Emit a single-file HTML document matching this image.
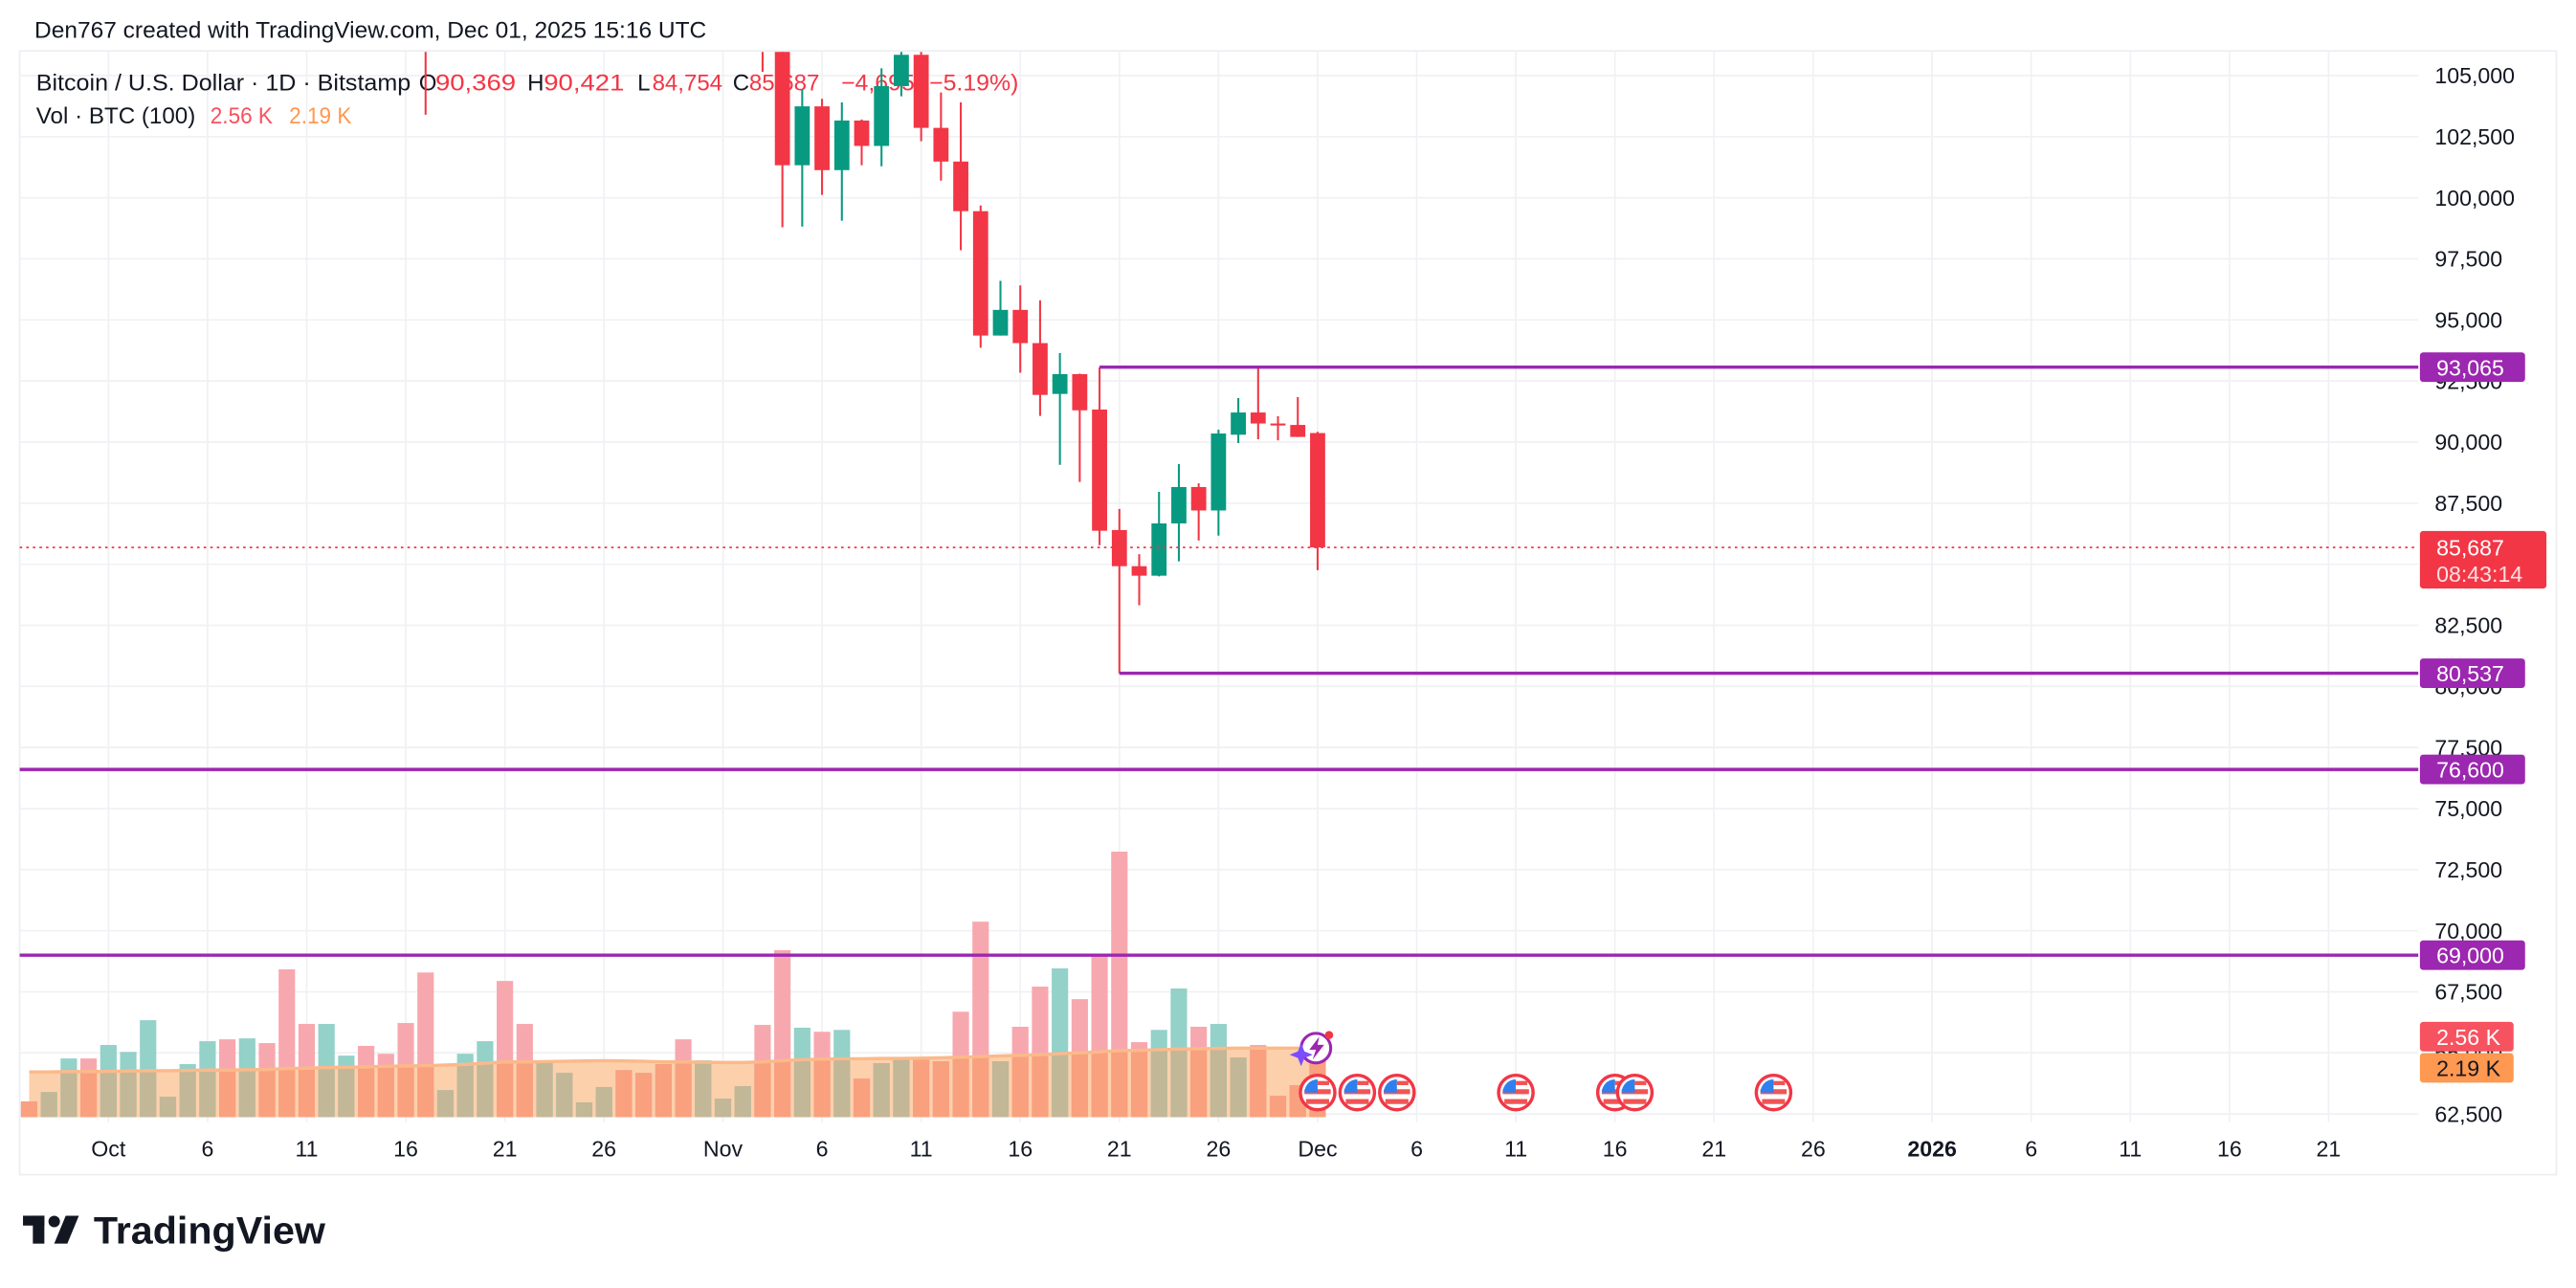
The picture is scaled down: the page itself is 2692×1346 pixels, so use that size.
<!DOCTYPE html>
<html><head><meta charset="utf-8"><style>
html,body{margin:0;padding:0;background:#fff;}
svg{display:block;font-family:"Liberation Sans",Arial,sans-serif;}
</style></head><body>
<svg id="chart" xmlns="http://www.w3.org/2000/svg" width="2692" height="1346" viewBox="0 0 1568 784" preserveAspectRatio="none">
<rect x="0" y="0" width="1568" height="784" fill="#ffffff"/>
<text x="21" y="23" font-size="14" fill="#131722" textLength="409" lengthAdjust="spacingAndGlyphs">Den767 created with TradingView.com, Dec 01, 2025 15:16 UTC</text>
<rect x="12" y="31" width="1544" height="684" fill="none" stroke="#eceef2" stroke-width="1"/>
<g id="grid"></g>
<g id="legend">
<text x="22" y="55" font-size="14" fill="#131722" textLength="228" lengthAdjust="spacingAndGlyphs">Bitcoin / U.S. Dollar · 1D · Bitstamp</text>
<text x="255" y="55" font-size="14" fill="#131722">O</text><text x="265" y="55" font-size="14" fill="#f23645" textLength="49" lengthAdjust="spacingAndGlyphs">90,369</text>
<text x="321" y="55" font-size="14" fill="#131722">H</text><text x="331" y="55" font-size="14" fill="#f23645" textLength="49" lengthAdjust="spacingAndGlyphs">90,421</text>
<text x="388" y="55" font-size="14" fill="#131722">L</text><text x="397" y="55" font-size="14" fill="#f23645">84,754</text>
<text x="446" y="55" font-size="14" fill="#131722">C</text><text x="456" y="55" font-size="14" fill="#f23645">85,687</text>
<text x="512" y="55" font-size="14" fill="#f23645" textLength="108" lengthAdjust="spacingAndGlyphs">−4,695 (−5.19%)</text>
<text x="22" y="75" font-size="14" fill="#131722" textLength="97" lengthAdjust="spacingAndGlyphs">Vol · BTC (100)</text>
<text x="128" y="75" font-size="14" fill="#f7525f" textLength="38" lengthAdjust="spacingAndGlyphs">2.56 K</text>
<text x="176" y="75" font-size="14" fill="#ff9850" textLength="38" lengthAdjust="spacingAndGlyphs">2.19 K</text>
</g>
<defs><clipPath id="plotclip"><rect x="12" y="31.6" width="1460" height="651"/></clipPath></defs>
<g id="vol" clip-path="url(#plotclip)"></g>
<g id="candles" clip-path="url(#plotclip)"></g>
<g id="levels"></g>
<g id="events"></g>
<g id="axis"></g>
<g id="logo">
<rect x="14" y="740" width="13" height="6" fill="#131722"/>
<rect x="20" y="740" width="7" height="17" fill="#131722"/>
<circle cx="33" cy="743.5" r="3.5" fill="#131722"/>
<polygon points="40,740 48,740 41,757 33,757" fill="#131722"/>
<text x="57" y="757" font-size="23" font-weight="bold" fill="#131722" textLength="141" lengthAdjust="spacingAndGlyphs">TradingView</text>
</g>
</svg>
<script>
const opens=[109700,109600,112100,114400,114000,118600,120600,122200,122400,123500,124700,121400,123300,121700,113200,110700,115200,115300,113100,110800,108200,106500,107200,108600,110600,108400,107600,110100,111000,111600,114500,114100,112900,110000,108300,109600,110100,110600,106500,101330,103740,101130,103160,102120,104570,105850,102860,101480,99450,94360,95410,94050,91970,92780,91330,86400,84920,84530,86670,88160,87200,90300,91210,90760,90700,90369];
const highs=[110000,112300,114500,114800,118700,121000,123900,122900,125500,126200,125100,124100,123800,122500,113500,115800,116000,115400,113600,111900,109200,107600,109400,111700,114000,109100,111200,111900,111900,115000,116300,116100,113600,111600,111200,110500,111200,110800,107300,104410,104050,103900,103200,105300,106500,106600,104310,103900,99680,96600,96410,95800,93640,92800,93065,87260,85410,87960,89100,88310,90510,91800,93065,91060,91840,90421];
const lows=[109000,109300,111600,112700,113900,118300,119400,121600,122100,123100,120600,121100,119600,106300,109600,109800,113800,109900,110200,107500,103400,106300,106700,107500,107500,106700,107500,109600,110600,111300,113900,112200,109300,106300,108200,109400,109600,105150,98790,98820,100120,99060,101330,101290,104150,102310,100700,97850,93860,94360,92840,91070,89070,88370,85780,80537,83320,84500,85120,85970,86170,89960,90110,90070,90210,84754];
const closes=[109600,112100,114400,114000,118600,120600,122200,122400,123500,124700,121400,123300,121700,113200,110700,115200,115300,113100,110800,108200,106500,107200,108600,110600,108400,107600,110100,111000,111600,114500,114100,112900,110000,108300,109600,110100,110600,106500,101330,103740,101130,103160,102120,104570,105850,102860,101480,99450,94360,95410,94050,91930,92780,91300,86370,84920,84530,86670,88160,87200,90350,91210,90760,90700,90210,85687];
const volumes=[0.50,0.80,1.87,1.87,2.30,2.08,3.09,0.65,1.69,2.42,2.48,2.51,2.36,4.71,2.97,2.97,1.96,2.27,2.02,3.00,4.61,0.86,2.02,2.42,4.34,2.97,1.75,1.41,0.47,0.96,1.50,1.41,1.69,2.48,1.81,0.59,0.99,2.94,5.32,2.85,2.72,2.78,1.23,1.72,1.87,1.84,1.78,3.36,6.23,1.78,2.88,4.16,4.74,3.76,5.16,8.46,2.39,2.78,4.10,2.88,2.97,1.90,2.30,0.68,1.02,2.56];
const volMA=[1.44,1.44,1.45,1.45,1.46,1.47,1.48,1.48,1.49,1.50,1.50,1.51,1.52,1.55,1.56,1.58,1.59,1.60,1.62,1.63,1.64,1.66,1.68,1.72,1.76,1.76,1.77,1.78,1.79,1.80,1.79,1.78,1.76,1.76,1.75,1.74,1.74,1.76,1.80,1.83,1.85,1.86,1.86,1.87,1.87,1.88,1.89,1.91,1.93,1.95,1.97,1.99,2.02,2.05,2.08,2.12,2.13,2.15,2.17,2.18,2.19,2.20,2.20,2.20,2.20,2.19];
const timeLabels=["Oct","6","11","16","21","26","Nov","6","11","16","21","26","Dec","6","11","16","21","26","2026","6","11","16","21"];
const timeLabelDays=[4,9,14,19,24,29,35,40,45,50,55,60,65,70,75,80,85,90,96,101,106,111,116];
const priceTicks=[105000,102500,100000,97500,95000,92500,90000,87500,85000,82500,80000,77500,75000,72500,70000,67500,65000,62500];
const levelPrices=[93065,80537,76600,69000];
const levelStartDays=[54,55,null,null];
const eventDays=[65,67,69,75,80,81,88];
const lastPrice=85687;

const NS="http://www.w3.org/2000/svg";
const PL=12,PR=1472,PT=31.6,PB=683;
function xOf(i){return 66+(i-4)*12.066;}
function yP(p){return 46+(105000-p)/2500*37.18;}
function yV(v){return 680-v*19.1;}
function mk(tag,attrs,parent){const e=document.createElementNS(NS,tag);for(const k in attrs)e.setAttribute(k,attrs[k]);parent.appendChild(e);return e;}
function fmt(n){return n.toLocaleString("en-US");}

const grid=document.getElementById("grid");
timeLabelDays.forEach(d=>{const l=mk("line",{x1:xOf(d),x2:xOf(d),y1:PT,y2:PB,stroke:"#f0f1f4","stroke-width":1},grid);

});
priceTicks.forEach(p=>{const l=mk("line",{x1:PL,x2:PR,y1:yP(p),y2:yP(p),stroke:"#f0f1f4","stroke-width":1},grid);

});

const vol=document.getElementById("vol");
let d="M"+xOf(0)+" "+yV(0);
volMA.forEach((v,i)=>{d+=" L"+xOf(i)+" "+yV(v);});
d+=" L"+xOf(volMA.length-1)+" "+yV(0)+" Z";
const area=mk("path",{d:d,fill:"#fdd0ac"},vol);


volumes.forEach((v,i)=>{
 const up=closes[i]>=opens[i];
 const x=xOf(i)-5, top=yV(v);
 const b=mk("rect",{x:x,y:top,width:10,height:680-top,fill:up?"#93d1c9":"#f7a8ae"},vol);
 
 
 const mt=Math.max(top,yV(volMA[i]));
 const b2=mk("rect",{x:x,y:mt,width:10,height:680-mt,fill:up?"#c2b797":"#f9a07f"},vol);
 
 
});
let md="";volMA.forEach((v,i)=>{md+=(i?" L":"M")+xOf(i)+" "+yV(v);});
const mal=mk("path",{d:md,fill:"none",stroke:"#fbb98a","stroke-width":2},vol);



const cg=document.getElementById("candles");
opens.forEach((o,i)=>{
 const c=closes[i],up=c>=o,col=up?"#089981":"#f23645",x=xOf(i);
 const w=mk("line",{x1:x,x2:x,y1:yP(highs[i]),y2:yP(lows[i]),stroke:col,"stroke-width":1.2},cg);
 
 
 const t=Math.min(yP(o),yP(c)),h=Math.max(1.2,Math.abs(yP(o)-yP(c)));
 const r=mk("rect",{x:x-4.6,y:t,width:9.2,height:h,fill:col},cg);
 
 
});

const lv=document.getElementById("levels");
const cp=mk("line",{x1:PL,x2:PR,y1:yP(lastPrice),y2:yP(lastPrice),stroke:"#f23645","stroke-width":1,"stroke-dasharray":"1.5 2.5"},lv);


levelPrices.forEach((p,k)=>{
 const sd=levelStartDays[k];
 const x1=sd===null?PL:xOf(sd);
 const l=mk("line",{x1:x1,x2:PR,y1:yP(p),y2:yP(p),stroke:"#9c27b0","stroke-width":2},lv);
 
 
});

const ev=document.getElementById("events");
eventDays.forEach(dd=>{
 const g=mk("g",{},ev);
 
 
 const cx=xOf(dd),cy=665;
 mk("circle",{cx:cx,cy:cy,r:10.5,fill:"#fff",stroke:"#f23645","stroke-width":2},g);
 mk("rect",{x:cx-8,y:cy-2,width:16,height:3,fill:"#f05454"},g);
 mk("rect",{x:cx-7,y:cy+4,width:14,height:3,fill:"#f05454"},g);
 mk("path",{d:`M${cx} ${cy-8} A8 8 0 0 0 ${cx-8} ${cy} L${cx} ${cy} Z`,fill:"#2f80ed"},g);
 mk("rect",{x:cx,y:cy-7,width:7,height:2.5,fill:"#f05454"},g);
});
const lg=mk("g",{},ev);


mk("circle",{cx:801,cy:638,r:9,fill:"#fff",stroke:"#9c27b0","stroke-width":1.8},lg);
mk("path",{d:"M803 631 L797 639 L801 639 L799 645 L806 636 L802 636 Z",fill:"#9c27b0"},lg);
mk("path",{d:"M792 635 L794 640 L799 642 L794 644 L792 649 L790 644 L785 642 L790 640 Z",fill:"#7c4dff"},lg);
mk("circle",{cx:809,cy:630,r:2.5,fill:"#f23645"},lg);

const ax=document.getElementById("axis");
priceTicks.forEach(p=>{
 const t=mk("text",{x:1482,y:yP(p)+4.8,"font-size":13.5,fill:"#131722"},ax);
 t.textContent=fmt(p);
 
 
});
timeLabels.forEach((s,k)=>{
 const t=mk("text",{x:xOf(timeLabelDays[k]),y:704,"font-size":13.5,fill:"#131722","text-anchor":"middle","font-weight":s==="2026"?"bold":"normal"},ax);
 t.textContent=s;
 
 
});
levelPrices.forEach(p=>{
 const g=mk("g",{},ax);
 
 
 mk("rect",{x:1473,y:yP(p)-9,width:64,height:18,rx:2,fill:"#9c27b0"},g);
 const t=mk("text",{x:1483,y:yP(p)+5,"font-size":13.5,fill:"#fff"},g);
 t.textContent=fmt(p);
});
const pg=mk("g",{},ax);


mk("rect",{x:1473,y:yP(lastPrice)-10,width:77,height:35,rx:2,fill:"#f23645"},pg);
const t1=mk("text",{x:1483,y:yP(lastPrice)+4.8,"font-size":13.5,fill:"#fff"},pg);t1.textContent=fmt(lastPrice);
const t2=mk("text",{x:1483,y:yP(lastPrice)+21,"font-size":13.5,fill:"#fde0e2"},pg);t2.textContent="08:43:14";
const v1=mk("g",{},ax);


mk("rect",{x:1473,y:622,width:57,height:18,rx:2,fill:"#f7525f"},v1);
const vt1=mk("text",{x:1483,y:636,"font-size":13.5,fill:"#fff"},v1);vt1.textContent="2.56 K";
const v2=mk("g",{},ax);


mk("rect",{x:1473,y:641,width:57,height:18,rx:2,fill:"#ff9850"},v2);
const vt2=mk("text",{x:1483,y:655,"font-size":13.5,fill:"#131722"},v2);vt2.textContent="2.19 K";
</script>
</body></html>
